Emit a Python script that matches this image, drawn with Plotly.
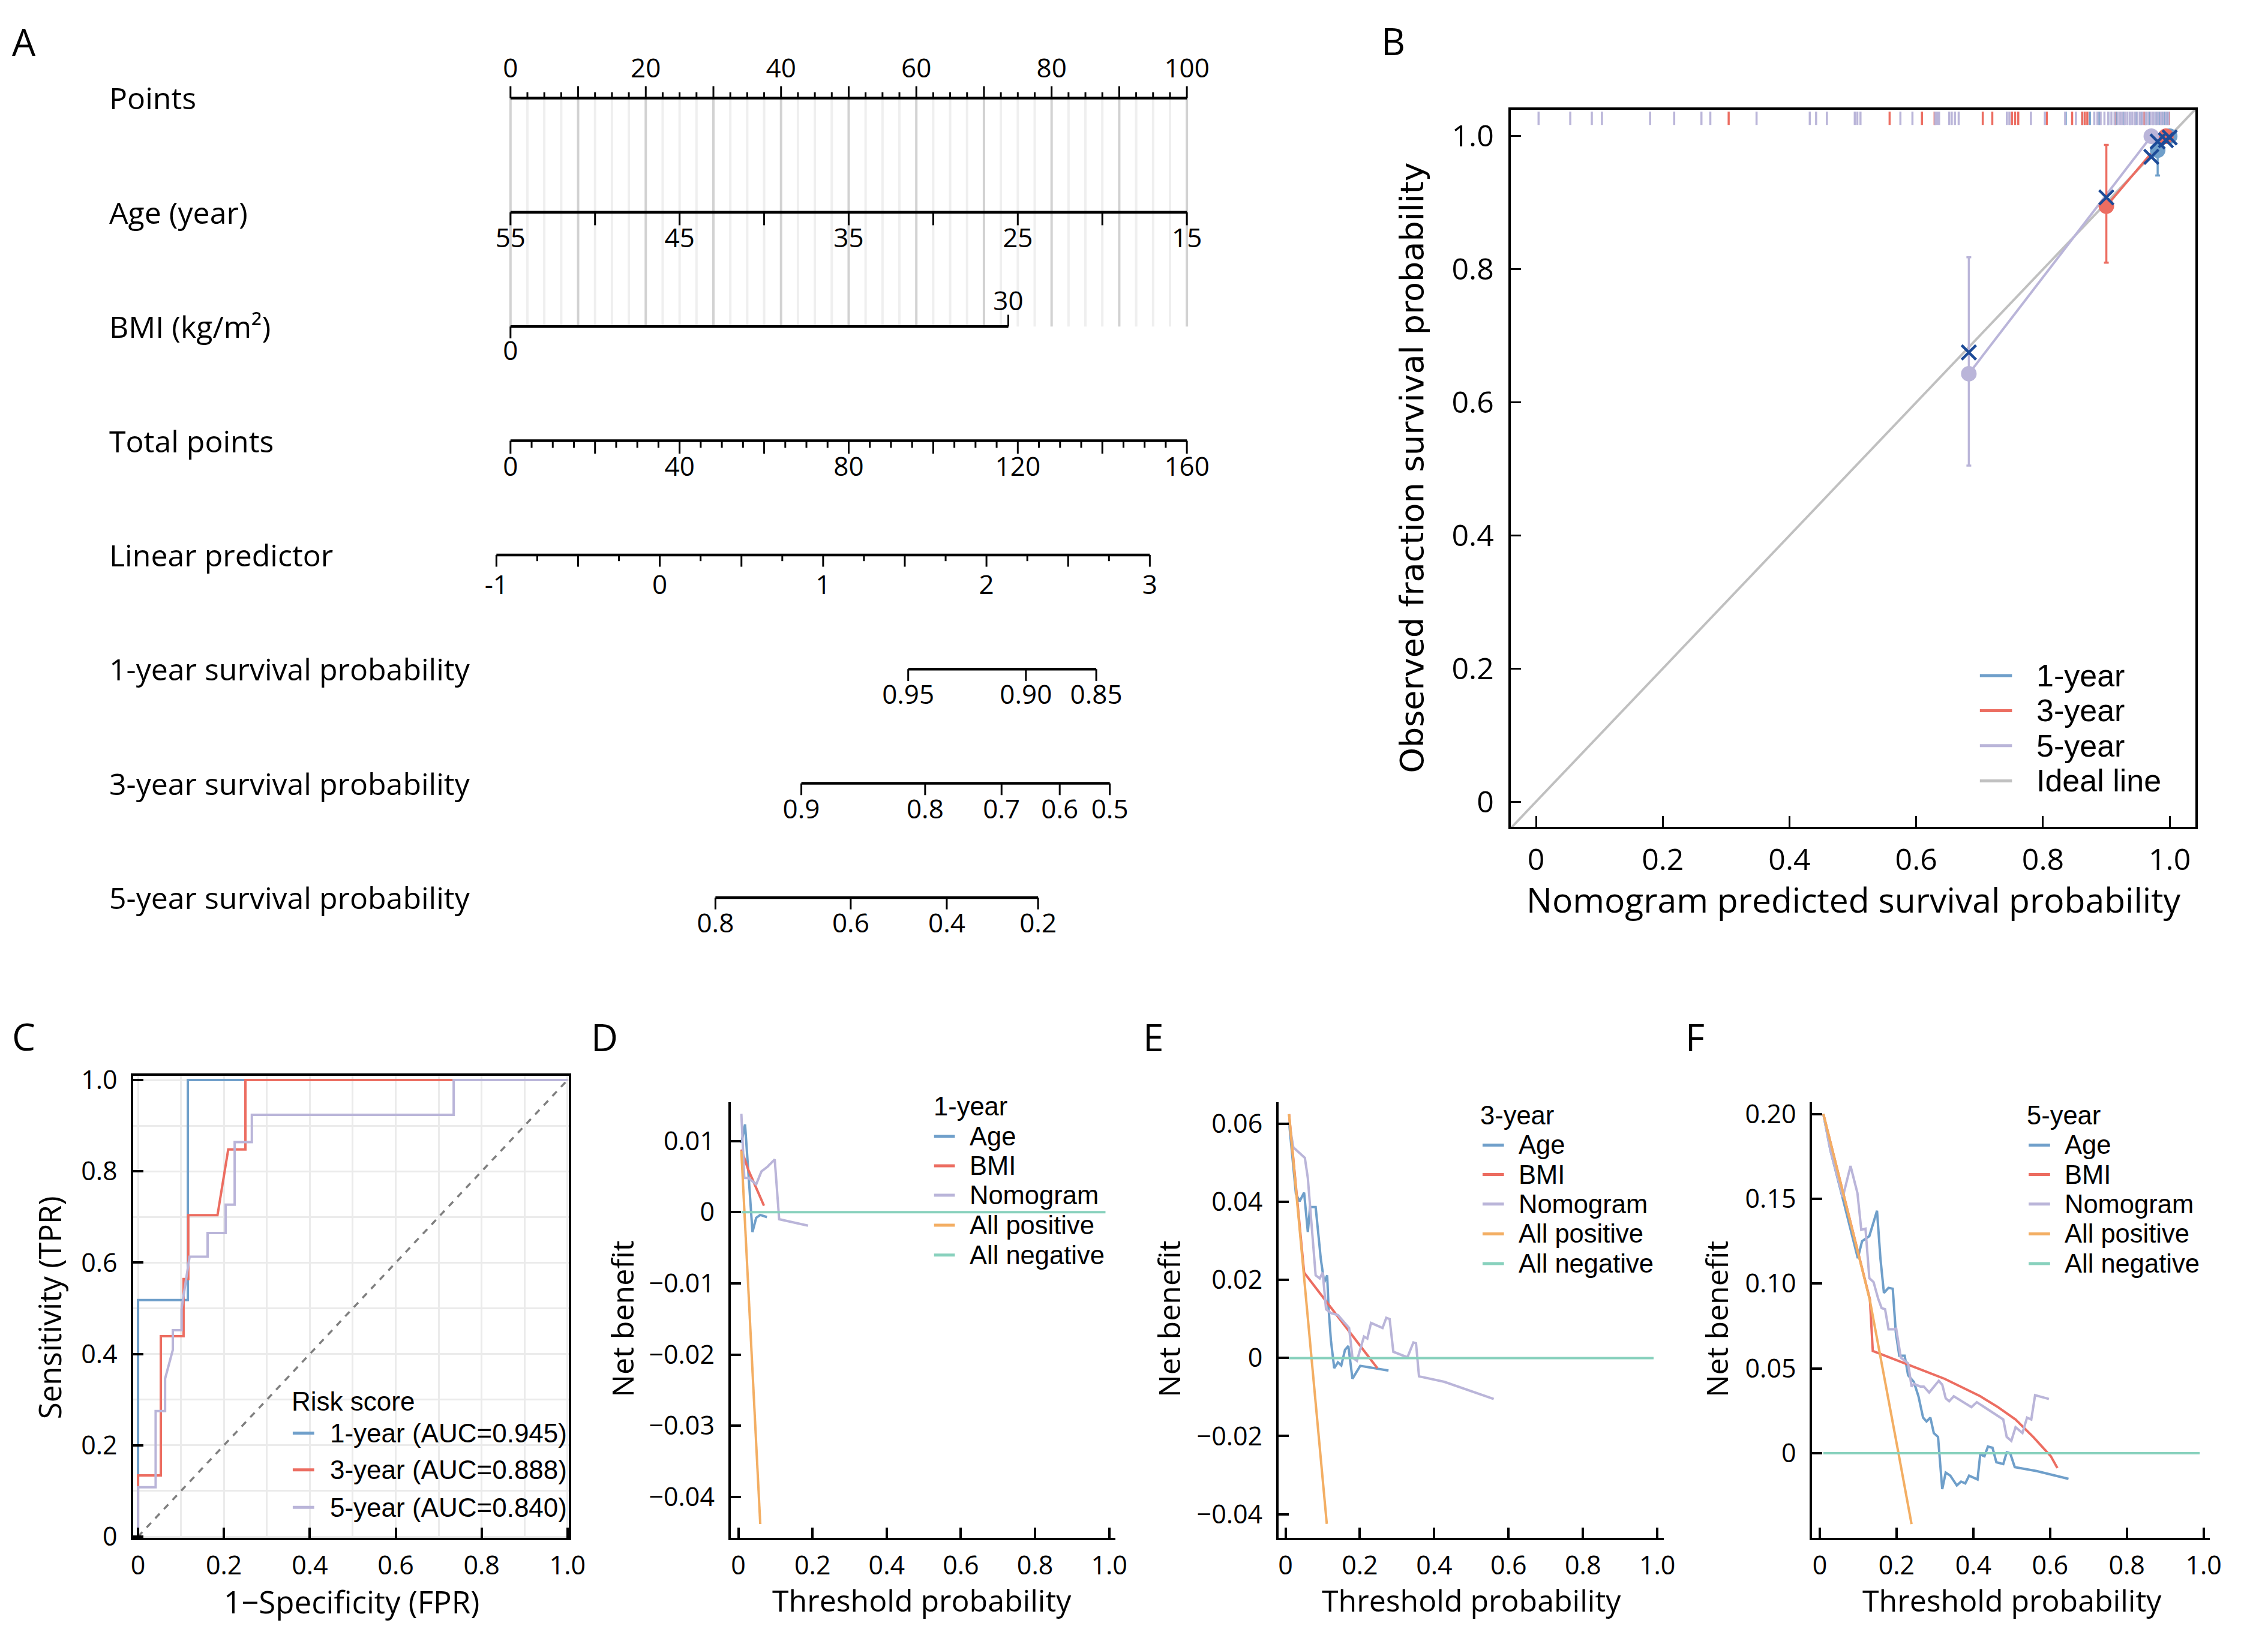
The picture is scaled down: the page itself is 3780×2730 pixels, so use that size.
import plotly.graph_objects as go

# page is opened with the default 8px body margin, so the figure is made
# 16px smaller than the window and everything is placed in window pixels
WIN_W, WIN_H = 3780, 2730
OX, OY = 8, 8
W, H = WIN_W - 2 * OX, WIN_H - 2 * OY
FONT = "Open Sans"
LEG_FONT = "Liberation Sans"

BLUE = "#6f9fca"
RED = "#ec6d61"
PURPLE = "#bab5d9"
ORANGE = "#f3ae63"
TEAL = "#88d1bd"
NAVY = "#1d4b98"
IDEAL = "#c0c0c0"

# ---------------- A: nomogram ----------------
row_names = ["Points", "Age (year)", "BMI (kg/m²)", "Total points", "Linear predictor",
             "1-year survival probability", "3-year survival probability",
             "5-year survival probability"]

points_ticks = [i * 2.5 for i in range(41)]
points_labels = [0, 20, 40, 60, 80, 100]

age_vals = [55, 50, 45, 40, 35, 30, 25, 20, 15]
age_pts = [0, 12.5, 25, 37.5, 50, 62.5, 75, 87.5, 100]
age_labels = [55, 45, 35, 25, 15]

bmi_vals = [0, 30]
bmi_pts = [0, 73.6]

total_ticks = list(range(0, 161, 5))
total_labels = [0, 40, 80, 120, 160]
total_max = 160

lp_ticks = [-1 + 0.25 * i for i in range(17)]
lp_labels = [-1, 0, 1, 2, 3]
lp_origin, lp_scale = -2.08, 24.15   # points position of lp=-1, points per lp unit

surv1_vals = ["0.95", "0.90", "0.85"]
surv1_pts = [58.8, 76.2, 86.6]
surv3_vals = ["0.9", "0.8", "0.7", "0.6", "0.5"]
surv3_pts = [43.0, 61.3, 72.6, 81.2, 88.6]
surv5_vals = ["0.8", "0.6", "0.4", "0.2"]
surv5_pts = [30.3, 50.3, 64.5, 78.0]

# ---------------- B: calibration ----------------
cal_names = ["1-year", "3-year", "5-year", "Ideal line"]

rug_1y = [0.836, 0.862, 0.874, 0.889, 0.903, 0.915, 0.928, 0.937, 0.946, 0.955,
          0.962, 0.968, 0.974, 0.979, 0.984, 0.988, 0.992, 0.996]
rug_3y = [0.304, 0.558, 0.609, 0.629, 0.705, 0.720, 0.751, 0.756, 0.761, 0.806,
          0.846, 0.862, 0.866, 0.870, 0.914, 0.960, 0.999]
rug_5y = [0.004, 0.054, 0.088, 0.104, 0.180, 0.218, 0.261, 0.275, 0.348, 0.432,
          0.442, 0.459, 0.503, 0.507, 0.512, 0.575, 0.594, 0.630, 0.633, 0.636,
          0.652, 0.656, 0.661, 0.667, 0.743, 0.747, 0.781, 0.803, 0.835, 0.852,
          0.881, 0.886, 0.891, 0.897, 0.903, 0.908, 0.913, 0.918, 0.922, 0.925,
          0.929, 0.933, 0.937, 0.941, 0.945, 0.949, 0.953, 0.957, 0.962, 0.966,
          0.970, 0.974, 0.978, 0.982, 0.986, 0.990, 0.994, 0.998]

cal_pred_1y = [0.981, 1.000]
cal_obs_1y = [0.979, 1.000]
cal_hi_1y = [0.998, 1.000]
cal_lo_1y = [0.941, 1.000]
cal_corr_1y = [0.992, 0.998]

cal_pred_3y = [0.900, 0.994]
cal_obs_3y = [0.895, 1.000]
cal_hi_3y = [0.987, 1.000]
cal_lo_3y = [0.810, 1.000]
cal_corr_3y = [0.908, 0.994]

cal_pred_5y = [0.683, 0.971]
cal_obs_5y = [0.643, 1.000]
cal_hi_5y = [0.818, 1.000]
cal_lo_5y = [0.505, 1.000]
cal_corr_5y = [0.675, 0.969]

# ---------------- C: ROC ----------------
roc1_fpr = [0, 0, 0.116, 0.116, 1.0]
roc1_tpr = [0, 0.518, 0.518, 1.0, 1.0]
roc3_fpr = [0, 0, 0.053, 0.053, 0.106, 0.106, 0.117, 0.117, 0.185, 0.21, 0.25, 0.25, 1.0]
roc3_tpr = [0, 0.134, 0.134, 0.439, 0.439, 0.564, 0.564, 0.704, 0.704, 0.848, 0.848, 1.0, 1.0]
roc5_fpr = [0, 0, 0.041, 0.041, 0.063, 0.063, 0.081, 0.081, 0.1015, 0.1015, 0.12, 0.162,
            0.162, 0.204, 0.204, 0.225, 0.225, 0.265, 0.265, 0.735, 0.735, 1.0]
roc5_tpr = [0, 0.108, 0.108, 0.275, 0.275, 0.346, 0.409, 0.452, 0.452, 0.5, 0.613, 0.613,
            0.665, 0.665, 0.727, 0.727, 0.864, 0.864, 0.924, 0.924, 1.0, 1.0]
roc_names = ["1-year (AUC=0.945)", "3-year (AUC=0.888)", "5-year (AUC=0.840)"]

# ---------------- D/E/F: decision curves ----------------
d_age_x = [0.008, 0.018, 0.038, 0.048, 0.059, 0.077]
d_age_y = [0.0097, 0.0123, -0.0028, -0.0008, -0.0004, -0.0007]
d_bmi_x = [0.008, 0.027, 0.069]
d_bmi_y = [0.0088, 0.0059, 0.0009]
d_nom_x = [0.008, 0.016, 0.027, 0.048, 0.062, 0.079, 0.098, 0.110, 0.188]
d_nom_y = [0.0138, 0.0048, 0.0048, 0.0039, 0.0057, 0.0064, 0.0074, -0.0010, -0.0019]
d_all_x = [0.008, 0.059]
d_all_y = [0.0086, -0.0438]

e_age_x = [0.0095, 0.028, 0.038, 0.050, 0.060, 0.066, 0.081, 0.095, 0.104, 0.112,
           0.116, 0.122, 0.131, 0.141, 0.150, 0.160, 0.169, 0.180, 0.201, 0.277]
e_age_y = [0.0605, 0.0420, 0.0402, 0.0424, 0.0323, 0.0387, 0.0387, 0.0253, 0.0194, 0.0212,
           0.0125, 0.0046, -0.0026, -0.0011, -0.0019, 0.0021, 0.0031, -0.0053, -0.0020, -0.0032]
e_bmi_x = [0.0095, 0.050, 0.247]
e_bmi_y = [0.0625, 0.0219, -0.0026]
e_nom_x = [0.0095, 0.021, 0.052, 0.060, 0.081, 0.092, 0.100, 0.109, 0.123, 0.141,
           0.171, 0.180, 0.192, 0.211, 0.220, 0.230, 0.261, 0.271, 0.280, 0.290,
           0.328, 0.344, 0.351, 0.359, 0.427, 0.494, 0.560]
e_nom_y = [0.0605, 0.0540, 0.0513, 0.0461, 0.0212, 0.0204, 0.0219, 0.0125, 0.0115, 0.0110,
           0.0077, 0.0001, -0.0007, 0.0055, 0.0050, 0.0090, 0.0077, 0.0103, 0.0100, 0.0016,
           0.0002, 0.0040, 0.0038, -0.0047, -0.0061, -0.0083, -0.0105]
e_all_x = [0.0095, 0.111]
e_all_y = [0.0625, -0.0425]

f_age_x = [0.0092, 0.0276, 0.060, 0.099, 0.110, 0.129, 0.149, 0.158, 0.167, 0.179,
           0.190, 0.198, 0.207, 0.221, 0.230, 0.245, 0.257, 0.269, 0.278, 0.288,
           0.297, 0.308, 0.319, 0.328, 0.340, 0.357, 0.368, 0.379, 0.389, 0.411,
           0.418, 0.429, 0.438, 0.450, 0.460, 0.478, 0.487, 0.496, 0.508, 0.565, 0.648]
f_age_y = [0.200, 0.1785, 0.150, 0.115, 0.125, 0.128, 0.143, 0.1146, 0.0945, 0.0975,
           0.097, 0.0712, 0.0575, 0.0575, 0.046, 0.042, 0.0336, 0.021, 0.0187, 0.021,
           0.0119, 0.0096, -0.0212, -0.0114, -0.0132, -0.019, -0.0167, -0.0178, -0.0132, -0.0155,
           -0.0007, -0.0018, 0.0039, 0.0032, -0.0053, -0.0064, 0.0005, 0.0, -0.0082, -0.0105, -0.0151]
f_bmi_x = [0.0092, 0.1305, 0.138, 0.234, 0.326, 0.418, 0.464, 0.510, 0.556, 0.602, 0.619]
f_bmi_y = [0.200, 0.0906, 0.0603, 0.0518, 0.0438, 0.0336, 0.0272, 0.0199, 0.0096, -0.0018, -0.0087]
f_nom_x = [0.0092, 0.0276, 0.060, 0.080, 0.098, 0.108, 0.119, 0.129, 0.140, 0.152,
           0.161, 0.170, 0.179, 0.193, 0.199, 0.211, 0.230, 0.239, 0.245, 0.262,
           0.271, 0.285, 0.310, 0.319, 0.328, 0.337, 0.349, 0.395, 0.409, 0.478,
           0.487, 0.499, 0.510, 0.528, 0.540, 0.551, 0.561, 0.597]
f_nom_y = [0.200, 0.1785, 0.1511, 0.1694, 0.1534, 0.1317, 0.1324, 0.1032, 0.1009, 0.0911,
           0.0856, 0.0849, 0.0731, 0.0731, 0.0735, 0.0564, 0.053, 0.0393, 0.0409, 0.0393,
           0.0393, 0.0358, 0.0427, 0.0404, 0.0324, 0.0306, 0.0336, 0.0272, 0.0301, 0.0199,
           0.0096, 0.0073, 0.0153, 0.0119, 0.021, 0.0199, 0.0342, 0.032]
f_all_x = [0.0092, 0.13, 0.205, 0.239]
f_all_y = [0.200, 0.0906, 0.0, -0.0418]
none_x = {"D": [0.008, 0.99], "E": [0.0095, 0.99], "F": [0.0092, 0.99]}

dca_names = ["Age", "BMI", "Nomogram", "All positive", "All negative"]
dca_colors = [BLUE, RED, PURPLE, ORANGE, TEAL]


def segments(xs, y0, y1):
    """vertical segments at xs from y0 to y1, separated by None"""
    sx, sy = [], []
    for x in xs:
        sx += [x, x, None]
        sy += [y0, y1, None]
    return sx, sy


def fx(px):
    return (px - OX) / W


def fy(py):
    return 1 - (py - OY) / H


fig = go.Figure()

# ---- panel A ----
PX_ROW = 194.0      # pixels per row
PX_PT = 11.37       # pixels per point
X0_PT = 854         # window x of 0 points
Y0_ROW = 142        # window y of the first row
A_RIGHT, A_BOTTOM = 2200, 1650


def rl(px):
    return px / PX_ROW


# grid
dark = [p for p in points_ticks if p % 10 == 0]
light = [p for p in points_ticks if p % 10 != 0]
gx, gy = segments(light, 0, 2)
fig.add_trace(go.Scatter(x=gx, y=gy, mode="lines", line=dict(color="#efefef", width=4),
                         xaxis="x", yaxis="y", hoverinfo="skip"))
gx, gy = segments(dark, 0, 2)
fig.add_trace(go.Scatter(x=gx, y=gy, mode="lines", line=dict(color="#d2d2d2", width=4),
                         xaxis="x", yaxis="y", hoverinfo="skip"))

total_pos = [t * 100 / total_max for t in total_ticks]
lp_pos = [lp_origin + (v + 1) * lp_scale for v in lp_ticks]

# axis lines
row_extent = [(0, 100), (0, 100), (0, bmi_pts[1]), (0, 100), (lp_pos[0], lp_pos[-1]),
              (surv1_pts[0], surv1_pts[-1]), (surv3_pts[0], surv3_pts[-1]),
              (surv5_pts[0], surv5_pts[-1])]
lx, ly = [], []
for r, (a, b) in enumerate(row_extent):
    lx += [a, b, None]
    ly += [r, r, None]
fig.add_trace(go.Scatter(x=lx, y=ly, mode="lines", line=dict(color="black", width=4.5),
                         xaxis="x", yaxis="y", hoverinfo="skip"))

# ticks
tx, ty = [], []


def add_ticks(xs, r, length):
    for x in xs:
        tx.extend([x, x, None])
        ty.extend([r, r + length, None])


add_ticks([p for p in points_ticks if p % 10 == 0], 0, -rl(20))
add_ticks([p for p in points_ticks if p % 10 != 0], 0, -rl(10))
add_ticks(age_pts, 1, rl(22))
add_ticks([bmi_pts[0]], 2, rl(20))
add_ticks([bmi_pts[1]], 2, -rl(20))
add_ticks([p for t, p in zip(total_ticks, total_pos) if t % 20 == 0], 3, rl(22))
add_ticks([p for t, p in zip(total_ticks, total_pos) if t % 20 != 0], 3, rl(12))
add_ticks([p for v, p in zip(lp_ticks, lp_pos) if (v * 2) % 1 == 0], 4, rl(20))
add_ticks([p for v, p in zip(lp_ticks, lp_pos) if (v * 2) % 1 != 0], 4, rl(10.5))
add_ticks(surv1_pts, 5, rl(20))
add_ticks(surv3_pts, 6, rl(20))
add_ticks(surv5_pts, 7, rl(20))
fig.add_trace(go.Scatter(x=tx, y=ty, mode="lines", line=dict(color="black", width=3),
                         xaxis="x", yaxis="y", hoverinfo="skip"))

# tick labels
lab_x, lab_y, lab_t = [], [], []


def add_labels(xs, texts, yy):
    for x, t in zip(xs, texts):
        lab_x.append(x)
        lab_y.append(yy)
        lab_t.append(str(t))


add_labels(points_labels, points_labels, 0 - rl(46))
add_labels([age_pts[age_vals.index(a)] for a in age_labels], age_labels, 1 + rl(48))
add_labels([bmi_pts[0]], [bmi_vals[0]], 2 + rl(46))
add_labels([bmi_pts[1]], [bmi_vals[1]], 2 - rl(39))
add_labels([t * 100 / total_max for t in total_labels], total_labels, 3 + rl(48))
add_labels([lp_origin + (v + 1) * lp_scale for v in lp_labels], lp_labels, 4 + rl(55))
add_labels(surv1_pts, surv1_vals, 5 + rl(48))
add_labels(surv3_pts, surv3_vals, 6 + rl(48))
add_labels(surv5_pts, surv5_vals, 7 + rl(48))
fig.add_trace(go.Scatter(x=lab_x, y=lab_y, text=lab_t, mode="text", textposition="middle center",
                         textfont=dict(family=FONT, size=44, color="black"),
                         xaxis="x", yaxis="y", hoverinfo="skip", cliponaxis=False))

# ---- panel B ----
for rug, col in [(rug_1y, BLUE), (rug_3y, RED), (rug_5y, PURPLE)]:
    rx, ry = segments(rug, 1.017, 1.037)
    fig.add_trace(go.Scatter(x=rx, y=ry, mode="lines", line=dict(color=col, width=3.5),
                             xaxis="x2", yaxis="y2", hoverinfo="skip"))

fig.add_trace(go.Scatter(x=[-0.04, 1.04], y=[-0.04, 1.04], mode="lines",
                         line=dict(color=IDEAL, width=4), name=cal_names[3],
                         xaxis="x2", yaxis="y2"))

cal_sets = [(cal_names[0], BLUE, cal_pred_1y, cal_obs_1y, cal_hi_1y, cal_lo_1y, cal_corr_1y),
            (cal_names[1], RED, cal_pred_3y, cal_obs_3y, cal_hi_3y, cal_lo_3y, cal_corr_3y),
            (cal_names[2], PURPLE, cal_pred_5y, cal_obs_5y, cal_hi_5y, cal_lo_5y, cal_corr_5y)]
for name, col, px_, obs, hi, lo, corr in cal_sets:
    fig.add_trace(go.Scatter(x=px_, y=obs, mode="lines", line=dict(color=col, width=4),
                             name=name, xaxis="x2", yaxis="y2"))
for name, col, px_, obs, hi, lo, corr in cal_sets:
    fig.add_trace(go.Scatter(
        x=px_, y=obs, mode="markers", name=name,
        marker=dict(color=col, size=26, line=dict(width=0)),
        error_y=dict(type="data", symmetric=False,
                     array=[h - o for h, o in zip(hi, obs)],
                     arrayminus=[o - l for o, l in zip(obs, lo)],
                     color=col, thickness=3.5, width=4),
        xaxis="x2", yaxis="y2"))
for name, col, px_, obs, hi, lo, corr in cal_sets:
    fig.add_trace(go.Scatter(x=px_, y=corr, mode="markers", name=name + " corrected",
                             marker=dict(symbol="x-thin", size=24, line=dict(color=NAVY, width=4.5)),
                             xaxis="x2", yaxis="y2"))

# ---- panel C ----
fig.add_trace(go.Scatter(x=[0, 1], y=[0, 1], mode="lines",
                         line=dict(color="#7f7f7f", width=3.5, dash="dash"),
                         xaxis="x3", yaxis="y3", hoverinfo="skip"))
roc_colors = [BLUE, RED, PURPLE]
for fpr, tpr, col, name in zip([roc1_fpr, roc3_fpr, roc5_fpr], [roc1_tpr, roc3_tpr, roc5_tpr],
                               roc_colors, roc_names):
    fig.add_trace(go.Scatter(x=fpr, y=tpr, mode="lines", line=dict(color=col, width=4),
                             name=name, xaxis="x3", yaxis="y3"))

# ---- panels D, E, F ----
dca_sets = [
    ("x4", "y4", [(d_age_x, d_age_y), (d_bmi_x, d_bmi_y), (d_nom_x, d_nom_y),
                  (d_all_x, d_all_y), (none_x["D"], [0, 0])]),
    ("x5", "y5", [(e_age_x, e_age_y), (e_bmi_x, e_bmi_y), (e_nom_x, e_nom_y),
                  (e_all_x, e_all_y), (none_x["E"], [0, 0])]),
    ("x6", "y6", [(f_age_x, f_age_y), (f_bmi_x, f_bmi_y), (f_nom_x, f_nom_y),
                  (f_all_x, f_all_y), (none_x["F"], [0, 0])]),
]
for xa, ya, series in dca_sets:
    for (xs, ys), name, col in zip(series, dca_names, dca_colors):
        fig.add_trace(go.Scatter(x=xs, y=ys, mode="lines", line=dict(color=col, width=4),
                                 name=name, xaxis=xa, yaxis=ya))

# ---------------- layout ----------------
tick_font = dict(family=FONT, size=43, color="black")
base = dict(showline=True, linecolor="black", linewidth=4, ticks="inside", ticklen=17,
            tickwidth=3.5, tickcolor="black", showgrid=False, zeroline=False,
            tickfont=tick_font, fixedrange=True)

unit_vals = [0, 0.2, 0.4, 0.6, 0.8, 1.0]
unit_text = ["0", "0.2", "0.4", "0.6", "0.8", "1.0"]

layout = dict(
    width=W, height=H, autosize=False, showlegend=False,
    margin=dict(l=0, r=0, t=0, b=0),
    paper_bgcolor="white", plot_bgcolor="rgba(0,0,0,0)",
    font=dict(family=FONT, color="black"),
    # A
    xaxis=dict(domain=[0, fx(A_RIGHT)],
               range=[(OX - X0_PT) / PX_PT, (A_RIGHT - X0_PT) / PX_PT],
               visible=False, fixedrange=True),
    yaxis=dict(domain=[fy(A_BOTTOM), 1],
               range=[(A_BOTTOM - Y0_ROW) / PX_ROW, (OY - Y0_ROW) / PX_ROW],
               visible=False, fixedrange=True),
    # B
    xaxis2=dict(base, domain=[fx(2535), fx(3686)], range=[-0.0403, 1.0403], mirror=True,
                linewidth=3.5, ticklen=18, tickwidth=3, tickvals=unit_vals, ticktext=unit_text,
                tickfont=dict(family=FONT, size=50, color="black"), ticklabelstandoff=8,
                anchor="y2"),
    yaxis2=dict(base, domain=[fy(1380), fy(161.5)], range=[-0.038, 1.040], mirror=True,
                linewidth=3.5, ticklen=18, tickwidth=3, tickvals=unit_vals, ticktext=unit_text,
                tickfont=dict(family=FONT, size=50, color="black"), ticklabelstandoff=14,
                anchor="x2"),
    # C
    xaxis3=dict(base, domain=[fx(220), fx(952)], range=[-0.011, 1.003], mirror=True,
                tickvals=unit_vals, ticktext=unit_text, showgrid=True, gridcolor="#ebebeb",
                gridwidth=3, minor=dict(dtick=0.1, showgrid=True, gridcolor="#ebebeb", gridwidth=3),
                ticklabelstandoff=6, anchor="y3"),
    yaxis3=dict(base, domain=[fy(2587), fy(1803)], range=[-0.002, 1.009], mirror=True,
                tickvals=unit_vals, ticktext=unit_text, showgrid=True, gridcolor="#ebebeb",
                gridwidth=3, minor=dict(dtick=0.1, showgrid=True, gridcolor="#ebebeb", gridwidth=3),
                ticklabelstandoff=14, anchor="x3"),
    # D
    xaxis4=dict(base, domain=[fx(1224), fx(1871)], range=[-0.021, 1.017],
                tickvals=unit_vals, ticktext=unit_text, ticklabelstandoff=6, anchor="y4"),
    yaxis4=dict(base, domain=[fy(2587), fy(1848)], range=[-0.0457, 0.0154],
                tickvals=[-0.04, -0.03, -0.02, -0.01, 0, 0.01],
                ticktext=["−0.04", "−0.03", "−0.02", "−0.01", "0", "0.01"],
                ticklabelstandoff=14, anchor="x4"),
    # E
    xaxis5=dict(base, domain=[fx(2145), fx(2793)], range=[-0.0189, 1.018],
                tickvals=unit_vals, ticktext=unit_text, ticklabelstandoff=6, anchor="y5"),
    yaxis5=dict(base, domain=[fy(2587), fy(1848)], range=[-0.046, 0.0655],
                tickvals=[-0.04, -0.02, 0, 0.02, 0.04, 0.06],
                ticktext=["−0.04", "−0.02", "0", "0.02", "0.04", "0.06"],
                ticklabelstandoff=14, anchor="x5"),
    # F
    xaxis6=dict(base, domain=[fx(3042), fx(3710)], range=[-0.0201, 1.0155],
                tickvals=unit_vals, ticktext=unit_text, ticklabelstandoff=6, anchor="y6"),
    yaxis6=dict(base, domain=[fy(2587), fy(1848)], range=[-0.0497, 0.2068],
                tickvals=[0, 0.05, 0.10, 0.15, 0.20],
                ticktext=["0", "0.05", "0.10", "0.15", "0.20"],
                ticklabelstandoff=14, anchor="x6"),
)

annotations = []
shapes = []


def txt(text, x0, y0, size, xanchor="center", angle=0, family=FONT):
    annotations.append(dict(x=fx(x0), y=fy(y0), xref="paper", yref="paper", text=text,
                            textangle=angle, xanchor=xanchor, yanchor="middle",
                            showarrow=False, borderpad=0,
                            font=dict(family=family, size=size, color="black")))


def legend_box(names, colors, line_x, line_len, text_x, rows, size, title=None, title_xy=None):
    if title:
        txt(title, title_xy[0], title_xy[1], size, xanchor="left", family=LEG_FONT)
    for name, col, yy in zip(names, colors, rows):
        shapes.append(dict(type="line", xref="paper", yref="paper",
                           x0=fx(line_x), x1=fx(line_x + line_len), y0=fy(yy), y1=fy(yy),
                           line=dict(color=col, width=5)))
        txt(name, text_x, yy, size, xanchor="left", family=LEG_FONT)


# row names of the nomogram
for r, name in enumerate(row_names):
    annotations.append(dict(x=(177 - X0_PT) / PX_PT, y=r, xref="x", yref="y", text=name,
                            xanchor="left", yanchor="middle", showarrow=False,
                            font=dict(family=FONT, size=50, color="black")))
# panel letters
for letter, x0, y0 in [("A", 36, 46), ("B", 2338, 45), ("C", 36, 1735),
                       ("D", 1012, 1736), ("E", 1934, 1736), ("F", 2845, 1736)]:
    txt(letter, x0, y0, 62)
# axis titles
txt("Nomogram predicted survival probability", 3111, 1503, 57)
txt("Observed fraction survival probability", 2370, 770, 54, angle=-90, family="DejaVu Sans")
txt("1−Specificity (FPR)", 587, 2695, 51)
txt("Sensitivity (TPR)", 78, 2196, 51, angle=-90)
for cx, ny in [(1546, 1041), (2469, 1960), (3378, 2881)]:
    txt("Threshold probability", cx, 2693, 50)
    txt("Net benefit", ny, 2216, 50, angle=-90)

# legends
legend_box(cal_names, [BLUE, RED, PURPLE, IDEAL], 3324, 54, 3418,
           [1123, 1182.5, 1242, 1301.7], 52)
legend_box(roc_names, roc_colors, 488, 36, 550, [2409.6, 2472, 2535.7], 44,
           title="Risk score", title_xy=(484.7, 2356))
legend_box(dca_names, dca_colors, 1566, 35, 1625, [1905.6, 1955.6, 2005.6, 2056.4, 2107.2], 43.5,
           title="1-year", title_xy=(1564.7, 1855))
legend_box(dca_names, dca_colors, 2488, 36, 2547.5, [1920.4, 1970.4, 2020.6, 2071.2, 2121.8], 43.5,
           title="3-year", title_xy=(2483.5, 1870))
legend_box(dca_names, dca_colors, 3406, 36, 3465.6, [1920.4, 1970.4, 2020.6, 2071.2, 2121.8], 43.5,
           title="5-year", title_xy=(3401.6, 1870))

layout["annotations"] = annotations
layout["shapes"] = shapes

fig.update_layout(**layout)
fig.write_html("out.html")
